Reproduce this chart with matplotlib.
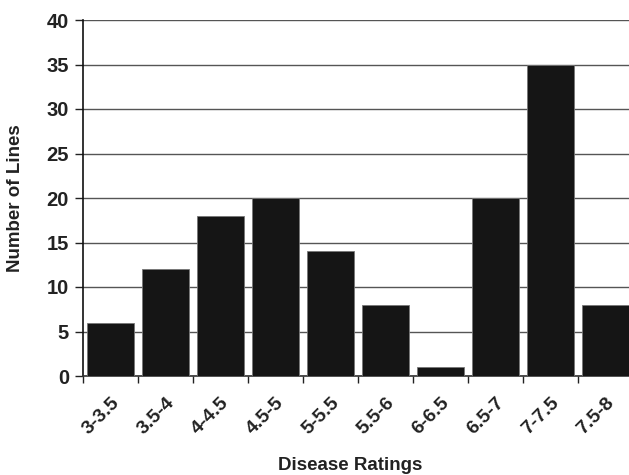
import matplotlib
matplotlib.use("Agg")
import matplotlib.pyplot as plt
import matplotlib.transforms as mtransforms
import numpy as np

categories = ["3-3.5", "3.5-4", "4-4.5", "4.5-5", "5-5.5", "5.5-6", "6-6.5", "6.5-7", "7-7.5", "7.5-8"]
values = [6, 12, 18, 20, 14, 8, 1, 20, 35, 8]
yticks = [0, 5, 10, 15, 20, 25, 30, 35, 40]

plt.rcParams['font.family'] = ['Liberation Sans', 'DejaVu Sans']
fig = plt.figure(figsize=(6.29, 4.75), dpi=100)
ax = fig.add_axes([83/629, 1 - 376/475, 550/629, (376-20)/475])

x = np.arange(len(categories))
ax.bar(x + 0.5, values, width=0.84, color='#151515', edgecolor='#777777', linewidth=0.6, zorder=3)
ax.set_xlim(0, len(categories))
ax.set_ylim(0, 40)
ax.set_yticks(yticks)
ax.set_yticklabels([str(t) for t in yticks], fontsize=14.5, fontweight='bold', color='#222222')
ax.set_xticks(x + 0.5)
ax.set_xticklabels(categories, rotation=45, ha='right', va='top', rotation_mode='anchor',
                   fontsize=14, fontweight='bold', color='#222222')
offset = mtransforms.ScaledTranslation(-8/100, 0, fig.dpi_scale_trans)
for lbl in ax.get_xticklabels():
    lbl.set_transform(lbl.get_transform() + offset)
ax.set_xticks(np.arange(len(categories) + 1), minor=True)
ax.tick_params(axis='x', which='major', length=0, pad=13)
ax.tick_params(axis='x', which='minor', length=5, width=1, color='#222222')
ax.tick_params(axis='y', length=6, width=1, color='#222222', pad=4)
ax.yaxis.grid(True, color='#555555', linewidth=1.0, zorder=0)
for s in ['top', 'right']:
    ax.spines[s].set_visible(False)
ax.spines['left'].set_linewidth(1.2)
ax.spines['left'].set_color('#111111')
ax.spines['bottom'].set_linewidth(1.2)
ax.spines['bottom'].set_color('#333333')
fig.text(350/629, 1 - 465/475, "Disease Ratings", fontsize=13.5, fontweight='bold',
         ha='center', va='center', color='#222222')
fig.text(16/629, 1 - 198/475, "Number of Lines", fontsize=13.5, fontweight='bold',
         ha='center', va='center', rotation=90, color='#222222')
fig.savefig("out.png", dpi=100)
